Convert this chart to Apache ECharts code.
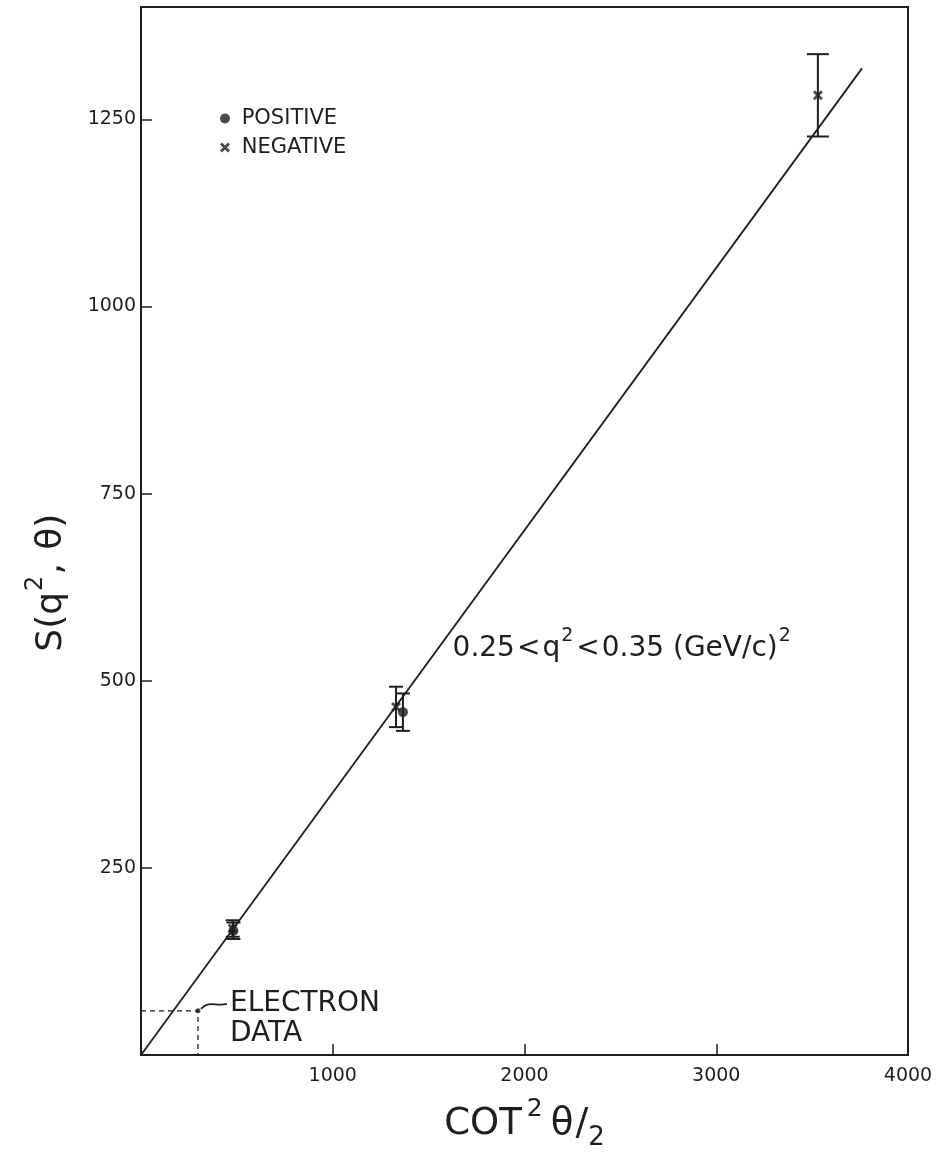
<!DOCTYPE html>
<html><head><meta charset="utf-8">
<script src="https://cdn.jsdelivr.net/npm/echarts@6/dist/echarts.min.js"></script>
<style>html,body{margin:0;padding:0;background:#fff}#c{width:938px;height:1156px}</style>
</head><body><div id="c"></div>
<script>
// ---- data ----
const xTickLabels = ['1000', '2000', '3000', '4000'];
const yTickLabels = ['250', '500', '750', '1000', '1250'];
const fitX = [0, 3760];
const fitY = [0, 1318];
const posX = [482, 1366];
const posY = [166, 458];
const posErr = [11, 25];
const negX = [478, 1330, 3530];
const negY = [169, 465, 1282];
const negErr = [11, 27, 55];
const electronX = [297];
const electronY = [59];
const seriesNames = ['POSITIVE', 'NEGATIVE'];
const electronText = ['ELECTRON', 'DATA'];

const INK = '#1e1e1e';
const FONT = 'DejaVu Sans';
const X_PATH = 'path://M2,0L5,3L8,0L10,2L7,5L10,8L8,10L5,7L2,10L0,8L3,5L0,2Z';

const chart = echarts.init(document.getElementById('c'), null, {renderer: 'canvas'});

function zip(xs, ys, es) { return xs.map((x, i) => es ? [x, ys[i], es[i]] : [x, ys[i]]); }

function errBar(params, api) {
  const x = api.value(0), y = api.value(1), e = api.value(2);
  const t = api.coord([x, y + e]), b = api.coord([x, y - e]);
  const half = e > 40 ? 11 : 7;
  const st = {stroke: INK, lineWidth: 2};
  return {type: 'group', children: [
    {type: 'line', shape: {x1: t[0], y1: t[1], x2: b[0], y2: b[1]}, style: st},
    {type: 'line', shape: {x1: t[0] - half, y1: t[1], x2: t[0] + half, y2: t[1]}, style: st},
    {type: 'line', shape: {x1: b[0] - half, y1: b[1], x2: b[0] + half, y2: b[1]}, style: st}
  ]};
}

const option = {
  backgroundColor: '#fff',
  animation: false,
  textStyle: {fontFamily: FONT, color: INK},
  grid: {left: 141, right: 30, top: 7, bottom: 87, show: true, borderColor: INK, borderWidth: 2, backgroundColor: 'transparent'},
  legend: {
    orient: 'vertical', left: 215, top: 103, itemWidth: 10, itemHeight: 10, itemGap: 8,
    data: [{name: seriesNames[0], icon: 'circle'}, {name: seriesNames[1], icon: X_PATH}],
    formatter: n => ' ' + n,
    textStyle: {fontFamily: FONT, fontSize: 21, color: INK},
    itemStyle: {color: INK}
  },
  xAxis: {
    type: 'value', min: 0, max: 4000, interval: 1000,
    name: '{a|COT}{s|2}{a|θ}{f|/}{d|2}', nameLocation: 'middle', nameGap: 42,
    nameTextStyle: {rich: {
      a: {fontFamily: FONT, fontSize: 37, color: INK, lineHeight: 46, verticalAlign: 'bottom'},
      s: {fontFamily: FONT, fontSize: 25, color: INK, lineHeight: 46, verticalAlign: 'top', padding: [0, 8, 0, 5]},
      f: {fontFamily: FONT, fontSize: 38, color: INK, lineHeight: 46, verticalAlign: 'bottom', padding: [0, 0, 0, 2]},
      d: {fontFamily: FONT, fontSize: 26, color: INK, lineHeight: 46, verticalAlign: 'bottom', padding: [0, 0, -8, 0]}
    }},
    axisLine: {show: true, onZero: false, lineStyle: {color: INK, width: 2}},
    axisTick: {show: true, inside: true, length: 11, lineStyle: {color: INK, width: 1.5}},
    axisLabel: {showMinLabel: false, fontSize: 19, fontFamily: FONT, color: INK, margin: 12,
      formatter: v => xTickLabels[v / 1000 - 1] || ''},
    splitLine: {show: false}
  },
  yAxis: {
    type: 'value', min: 0, max: 1400, interval: 250,
    axisLine: {show: true, onZero: false, lineStyle: {color: INK, width: 2}},
    axisTick: {show: true, inside: true, length: 11, lineStyle: {color: INK, width: 1.5}},
    axisLabel: {showMinLabel: false, showMaxLabel: false, fontSize: 19, fontFamily: FONT, color: INK, margin: 5,
      formatter: v => yTickLabels[v / 250 - 1] || ''},
    splitLine: {show: false}
  },
  series: [
    {name: 'fit', type: 'line', data: zip(fitX, fitY), showSymbol: false, silent: true,
      lineStyle: {color: INK, width: 1.8}, z: 2},
    {name: 'electron', type: 'line', silent: true, showSymbol: false,
      data: [[0, electronY[0]], [electronX[0], electronY[0]], [electronX[0], 0]],
      lineStyle: {color: INK, width: 1.3, type: [5, 4]}, z: 2},
    {name: 'electronPt', type: 'scatter', data: zip(electronX, electronY), symbol: 'circle', symbolSize: 5,
      itemStyle: {color: INK}, z: 3},
    {name: 'posErr', type: 'custom', data: zip(posX, posY, posErr), renderItem: errBar, z: 3},
    {name: 'negErr', type: 'custom', data: zip(negX, negY, negErr), renderItem: errBar, z: 3},
    {name: seriesNames[0], type: 'scatter', data: zip(posX, posY), symbol: 'circle', symbolSize: 10,
      itemStyle: {color: INK}, z: 4},
    {name: seriesNames[1], type: 'scatter', data: zip(negX, negY), symbol: X_PATH, symbolSize: 10,
      itemStyle: {color: INK}, z: 4}
  ]
};
chart.setOption(option);

// annotations placed from data coordinates
const px = p => chart.convertToPixel({gridIndex: 0}, p);
const ePt = px([electronX[0], electronY[0]]);
const rangeAt = px([1625, 548]);
const elecAt = px([464, 68]);
const dataAt = px([464, 29]);
const yTitleAt = px([0, 631]);
chart.setOption({graphic: [
  {type: 'text', x: rangeAt[0], y: rangeAt[1], style: {
    text: '{a|0.25}{l|<}{a|q}{s|2}{l|<}{a|0.35 (GeV/c)}{s|2}',
    verticalAlign: 'middle', align: 'left',
    rich: {
      a: {fontFamily: FONT, fontSize: 28, fill: INK, lineHeight: 36, verticalAlign: 'bottom'},
      l: {fontFamily: FONT, fontSize: 28, fill: INK, lineHeight: 36, verticalAlign: 'bottom', padding: [0, 2, 0, 2]},
      s: {fontFamily: FONT, fontSize: 19, fill: INK, lineHeight: 36, verticalAlign: 'top', padding: [0, 1, 0, 1]}
    }}},
  {type: 'text', x: elecAt[0], y: elecAt[1], style: {text: electronText[0], fontFamily: FONT, fontSize: 28, fill: INK, verticalAlign: 'middle'}},
  {type: 'text', x: dataAt[0], y: dataAt[1], style: {text: electronText[1], fontFamily: FONT, fontSize: 28, fill: INK, verticalAlign: 'middle'}},
  {type: 'bezierCurve', shape: {x1: ePt[0] + 3, y1: ePt[1] - 2, cpx1: ePt[0] + 11, cpy1: ePt[1] - 11,
      cpx2: ePt[0] + 18, cpy2: ePt[1] - 4, x2: ePt[0] + 29, y2: ePt[1] - 7},
    style: {stroke: INK, lineWidth: 1.8, fill: null}},
  {type: 'text', x: yTitleAt[0] - 94, y: yTitleAt[1], rotation: Math.PI / 2, style: {
    text: '{a|S(q}{s|2}{a|,}{g| }{a|θ)}', align: 'center', verticalAlign: 'middle',
    rich: {
      a: {fontFamily: FONT, fontSize: 36, fill: INK, lineHeight: 46, verticalAlign: 'bottom'},
      g: {fontFamily: FONT, fontSize: 36, fill: INK, lineHeight: 46, verticalAlign: 'bottom', padding: [0, 2, 0, 0]},
      s: {fontFamily: FONT, fontSize: 24, fill: INK, lineHeight: 46, verticalAlign: 'top', padding: [0, 1, 0, 1]}
    }}}
]});
</script>
</body></html>
